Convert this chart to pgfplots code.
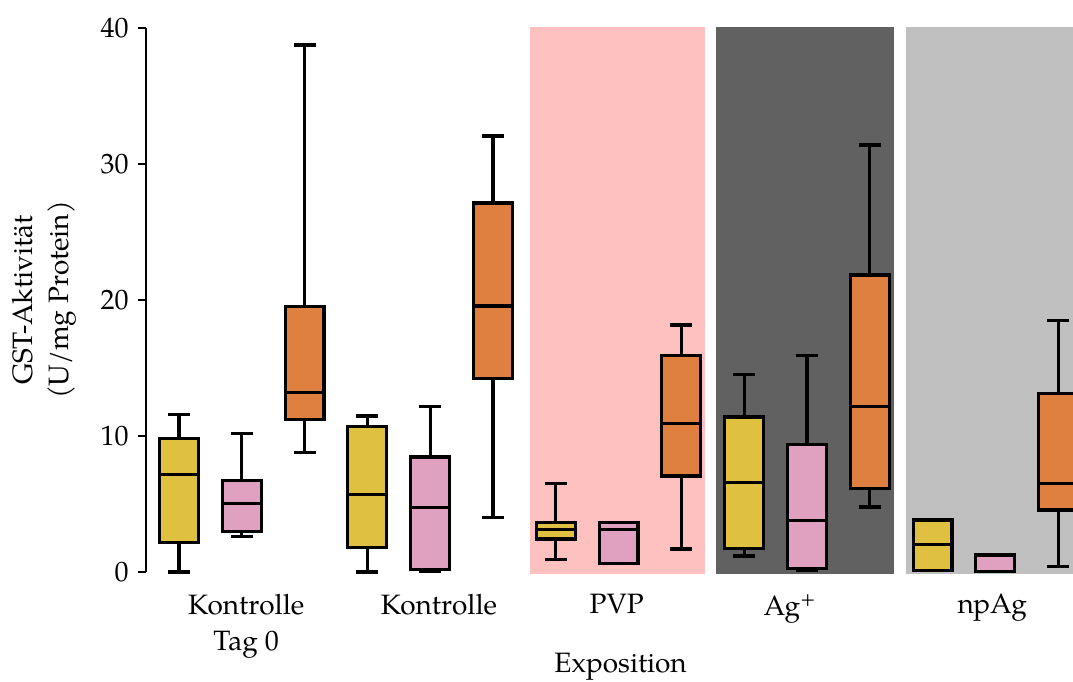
\documentclass[border=0pt]{standalone}
\usepackage{fontspec}
\setmainfont{TeX Gyre Pagella}
\usepackage{pgfplots}
\pgfplotsset{compat=1.18}
\usepgfplotslibrary{statistics}

\definecolor{cYel}{RGB}{224,192,64}
\definecolor{cPnk}{RGB}{224,160,192}
\definecolor{cOra}{RGB}{224,128,64}
\definecolor{bgPVP}{RGB}{255,192,192}
\definecolor{bgAg}{RGB}{97,97,97}
\definecolor{bgNp}{RGB}{192,192,192}

\pgfplotsset{
  gst/.style={draw=black, line width=1.25pt, fill=#1,
    boxplot/draw direction=y,
    boxplot/box extend=0.62, boxplot/whisker extend=0.35,
    boxplot/every box/.style={line width=1.25pt},
    boxplot/every median/.style={line width=1.25pt},
    boxplot/every whisker/.style={line width=1.25pt}},
}
% box at position #1: lower whisker, lower quartile, median, upper quartile, upper whisker, colour
\newcommand{\gstbox}[7]{%
  \addplot[gst=#7, boxplot prepared={draw position=#1, lower whisker=#2,
    lower quartile=#3, median=#4, upper quartile=#5, upper whisker=#6}]
    coordinates {};}

\begin{document}
\begin{tikzpicture}[font=\fontsize{11.2}{14.4}\selectfont]
\begin{axis}[
  scale only axis, width=370.8pt, height=217.6pt,
  xmin=-0.525, xmax=14.236, ymin=0, ymax=40,
  clip=false,
  axis y line*=left, axis x line*=bottom,
  x axis line style={draw=none},
  y axis line style={-, line width=0.65pt},
  ytick={0,10,20,30,40},
  tick align=outside, major tick length=3.4pt,
  ytick style={black, line width=0.65pt},
  xtick={1.07,4.14,6.97,9.73,12.95},
  xticklabels={{Kontrolle\\Tag 0},Kontrolle,PVP,Ag\textsuperscript{+},npAg},
  xtick style={draw=none},
  xticklabel style={align=center, font=\fontsize{11.2}{14.4}\selectfont, yshift=-2pt},
  yticklabel style={font=\fontsize{11.2}{14.4}\selectfont},
  /pgf/number format/assume math mode=true,
  xlabel={Exposition},
  xlabel style={at={(axis description cs:0.512,0)}, anchor=north, yshift=-29pt},
  ylabel={GST-Aktivität\\(U/mg Protein)},
  ylabel style={align=center, at={(axis description cs:-0.110,0.5)}, anchor=center},
]
% treatment backgrounds
\fill[bgPVP] (axis cs:5.59,-0.15) rectangle (axis cs:8.376,40.07);
\fill[bgAg]  (axis cs:8.55,-0.15) rectangle (axis cs:11.385,40.07);
\fill[bgNp]  (axis cs:11.576,-0.15) rectangle (axis cs:14.236,40.07);

% Kontrolle Tag 0
\gstbox{0}{0}{2.15}{7.15}{9.8}{11.6}{cYel}
\gstbox{1}{2.6}{2.97}{5.05}{6.76}{10.2}{cPnk}
\gstbox{2}{8.8}{11.2}{13.2}{19.55}{38.75}{cOra}
% Kontrolle
\gstbox{3}{0}{1.8}{5.7}{10.7}{11.47}{cYel}
\gstbox{4}{0.05}{0.2}{4.73}{8.46}{12.15}{cPnk}
\gstbox{5}{4.02}{14.26}{19.56}{27.13}{32.06}{cOra}
% PVP
\gstbox{6}{0.93}{2.43}{3.14}{3.63}{6.5}{cYel}
\gstbox{7}{0.64}{0.64}{3.14}{3.65}{3.65}{cPnk}
\gstbox{8}{1.69}{7.06}{10.9}{15.9}{18.16}{cOra}
% Ag+
\gstbox{9}{1.18}{1.74}{6.6}{11.4}{14.5}{cYel}
\gstbox{10}{0.1}{0.27}{3.8}{9.4}{15.9}{cPnk}
\gstbox{11}{4.78}{6.13}{12.18}{21.84}{31.4}{cOra}
% npAg
\gstbox{12}{0.1}{0.1}{2.03}{3.82}{3.82}{cYel}
\gstbox{13}{0.05}{0.05}{0.05}{1.25}{1.25}{cPnk}
\gstbox{14}{0.39}{4.56}{6.52}{13.1}{18.5}{cOra}

\coordinate (bbsw) at (axis cs:-2.85,-8.05);
\coordinate (bbne) at (axis cs:14.236,42.06);
\end{axis}
\pgfresetboundingbox
\path (bbsw) rectangle (bbne);
\end{tikzpicture}
\end{document}
